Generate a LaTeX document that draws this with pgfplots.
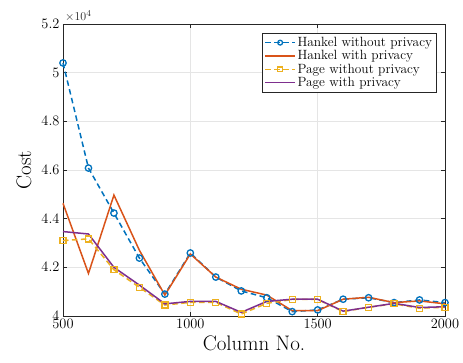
\documentclass[border=0pt]{standalone}
\usepackage{pgfplots}
\pgfplotsset{compat=1.18}
\definecolor{mblue}{rgb}{0,0.447,0.741}
\definecolor{morange}{rgb}{0.85,0.325,0.098}
\definecolor{myellow}{rgb}{0.929,0.694,0.125}
\definecolor{mpurple}{rgb}{0.494,0.184,0.556}
\definecolor{axgray}{rgb}{0.15,0.15,0.15}
\begin{document}
\begin{tikzpicture}
\begin{axis}[
  scale only axis, width=382pt, height=292pt,
  xmin=500, xmax=2000, ymin=4, ymax=5.2,
  xtick={500,1000,1500,2000},
  ytick={4,4.2,4.4,4.6,4.8,5,5.2},
  yticklabel style={/pgf/number format/fixed},
  xticklabel style={/pgf/number format/fixed, /pgf/number format/1000 sep={}},
  tick label style={font=\fontsize{14.5}{16}\selectfont},
  grid=major, major grid style={gray!20, line width=0.6pt},
  tick align=inside, major tick length=4pt,
  axis line style={axgray, line width=0.6pt},
  tick style={axgray, line width=0.6pt},
  xlabel={Column No.}, ylabel={Cost},
  label style={font=\fontsize{21}{23}\selectfont},
  xlabel style={yshift=0pt},
  ylabel style={yshift=3pt},
  legend style={at={(0.977,0.969)}, anchor=north east, font=\fontsize{13.4}{15}\selectfont,
    draw=axgray, row sep=-0.5pt, inner sep=2.5pt,
    nodes={inner sep=1.5pt}},
  legend cell align=left,
  every axis plot/.append style={legend image code/.code={\draw[mark repeat=2,mark phase=2,mark size=2.4pt,##1,line width=1.5pt] plot coordinates {(0cm,0cm) (0.53cm,0cm) (1.06cm,0cm)};}},
  clip=false,
]
\addplot[mblue, line width=1.5pt, dash pattern=on 5.5pt off 3.5pt, mark=o, mark size=3.2pt, mark options={solid, line width=1.3pt}] coordinates {
(500,5.04) (600,4.608) (700,4.423) (800,4.238) (900,4.09) (1000,4.259) (1100,4.16) (1200,4.103)
(1300,4.075) (1400,4.018) (1500,4.025) (1600,4.069) (1700,4.075) (1800,4.055) (1900,4.066) (2000,4.055)};
\addlegendentry{Hankel without privacy}
\addplot[morange, line width=1.5pt] coordinates {
(500,4.463) (600,4.175) (700,4.497) (800,4.27) (900,4.086) (1000,4.255) (1100,4.16) (1200,4.11)
(1300,4.086) (1400,4.022) (1500,4.022) (1600,4.069) (1700,4.077) (1800,4.055) (1900,4.062) (2000,4.05)};
\addlegendentry{Hankel with privacy}
\addplot[myellow, line width=1.5pt, dash pattern=on 5.5pt off 3.5pt, mark=square, mark size=3pt, mark options={solid, line width=1.3pt}] coordinates {
(500,4.31) (600,4.317) (700,4.19) (800,4.118) (900,4.045) (1000,4.056) (1100,4.056) (1200,4.008)
(1300,4.052) (1400,4.068) (1500,4.068) (1600,4.018) (1700,4.036) (1800,4.05) (1900,4.032) (2000,4.036)};
\addlegendentry{Page without privacy}
\addplot[mpurple, line width=1.5pt] coordinates {
(500,4.347) (600,4.337) (700,4.2) (800,4.127) (900,4.05) (1000,4.06) (1100,4.06) (1200,4.015)
(1300,4.06) (1400,4.069) (1500,4.069) (1600,4.02) (1700,4.036) (1800,4.052) (1900,4.035) (2000,4.038)};
\addlegendentry{Page with privacy}
\node[anchor=south west, font=\fontsize{12.5}{14}\selectfont, axgray, inner sep=1pt, xshift=1pt, yshift=1pt] at (rel axis cs:0,1) {$\times 10^4$};
\end{axis}
\pgfresetboundingbox
\path ([shift={(-63pt,-46pt)}]current axis.south west) rectangle ([shift={(18pt,24pt)}]current axis.north east);
\end{tikzpicture}
\end{document}
